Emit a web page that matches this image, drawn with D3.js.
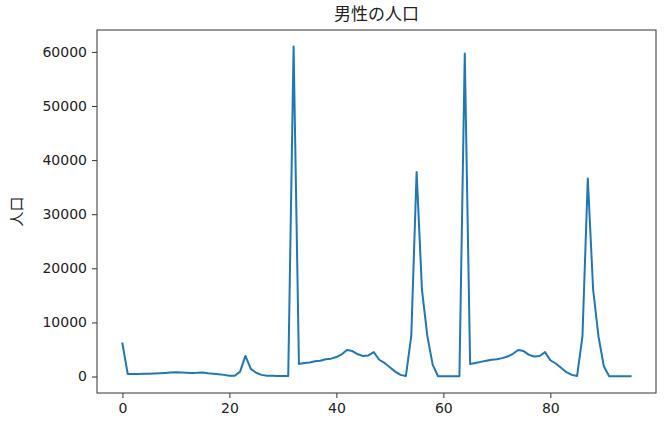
<!DOCTYPE html>
<html lang="ja">
<head>
<meta charset="utf-8">
<title>男性の人口</title>
<script src="https://d3js.org/d3.v7.min.js"></script>
<style>
  body { margin: 0; background: #fff; }
  text { font-family: "DejaVu Sans", "Noto Sans CJK JP", sans-serif; fill: #222; }
  .jp { font-family: "Noto Sans CJK JP", sans-serif; }
</style>
</head>
<body>
<div id="chart"></div>
<script>
// male population per row (index 0..95)
var population = [
  6100, 450, 450, 480, 500, 520, 560, 600, 650, 720,
  800, 750, 700, 650, 680, 750, 600, 500, 400, 300,
  150, 150, 900, 3800, 1400, 700, 300, 150, 120, 100,
  100, 100, 61000, 2300, 2500, 2600, 2800, 2900, 3200, 3300,
  3600, 4100, 4900, 4700, 4100, 3800, 3900, 4500, 3100, 2500,
  1700, 900, 300, 100, 7500, 37800, 16000, 7500, 2200, 50,
  50, 50, 50, 50, 59700, 2300, 2500, 2700, 2900, 3100,
  3200, 3400, 3700, 4200, 4900, 4700, 4000, 3700, 3800, 4500,
  3000, 2400, 1600, 800, 300, 100, 7400, 36600, 16000, 7400,
  1900, 50, 50, 50, 50, 50
];
var xTicks = [0, 20, 40, 60, 80];
var yTicks = [0, 10000, 20000, 30000, 40000, 50000, 60000];
var title = "男性の人口";
var yLabel = "人口";

var width = 665, height = 430;
// plot box
var box = { left: 97, right: 656, top: 30, bottom: 393 };

var svg = d3.select("#chart").append("svg")
  .attr("width", width)
  .attr("height", height);

// matplotlib style 5% margins around the data
var n = population.length - 1;
var ymax = d3.max(population), ymin = 0;
var x = d3.scaleLinear()
  .domain([-0.05 * n, n * 1.05])
  .range([box.left, box.right]);
var y = d3.scaleLinear()
  .domain([ymin - 0.05 * (ymax - ymin), ymax + 0.05 * (ymax - ymin)])
  .range([box.bottom, box.top]);

var line = d3.line()
  .x(function(d, i) { return x(i); })
  .y(function(d) { return y(d); });

svg.append("path")
  .datum(population)
  .attr("d", line)
  .attr("fill", "none")
  .attr("stroke", "#1f77b4")
  .attr("stroke-width", 2)
  .attr("stroke-linejoin", "round")
  .attr("stroke-linecap", "square");

var xAxis = svg.append("g")
  .attr("transform", "translate(0," + box.bottom + ")")
  .call(d3.axisBottom(x).tickValues(xTicks).tickSize(5).tickPadding(5).tickFormat(d3.format("d")));
var yAxis = svg.append("g")
  .attr("transform", "translate(" + box.left + ",0)")
  .call(d3.axisLeft(y).tickValues(yTicks).tickSize(5).tickPadding(5).tickFormat(d3.format("d")));

[xAxis, yAxis].forEach(function(g) {
  g.select(".domain").remove();
  g.selectAll("line").attr("stroke", "#333");
  g.selectAll("text").attr("font-size", 14).attr("fill", "#222");
});

// frame
svg.append("rect")
  .attr("x", box.left).attr("y", box.top)
  .attr("width", box.right - box.left).attr("height", box.bottom - box.top)
  .attr("fill", "none")
  .attr("stroke", "#333")
  .attr("stroke-width", 1);

svg.append("text")
  .attr("class", "jp")
  .attr("x", (box.left + box.right) / 2)
  .attr("y", 20)
  .attr("text-anchor", "middle")
  .attr("font-size", 17)
  .text(title);

svg.append("text")
  .attr("class", "jp")
  .attr("transform", "translate(22," + ((box.top + box.bottom) / 2) + ") rotate(-90)")
  .attr("text-anchor", "middle")
  .attr("font-size", 15)
  .text(yLabel);
</script>
</body>
</html>
